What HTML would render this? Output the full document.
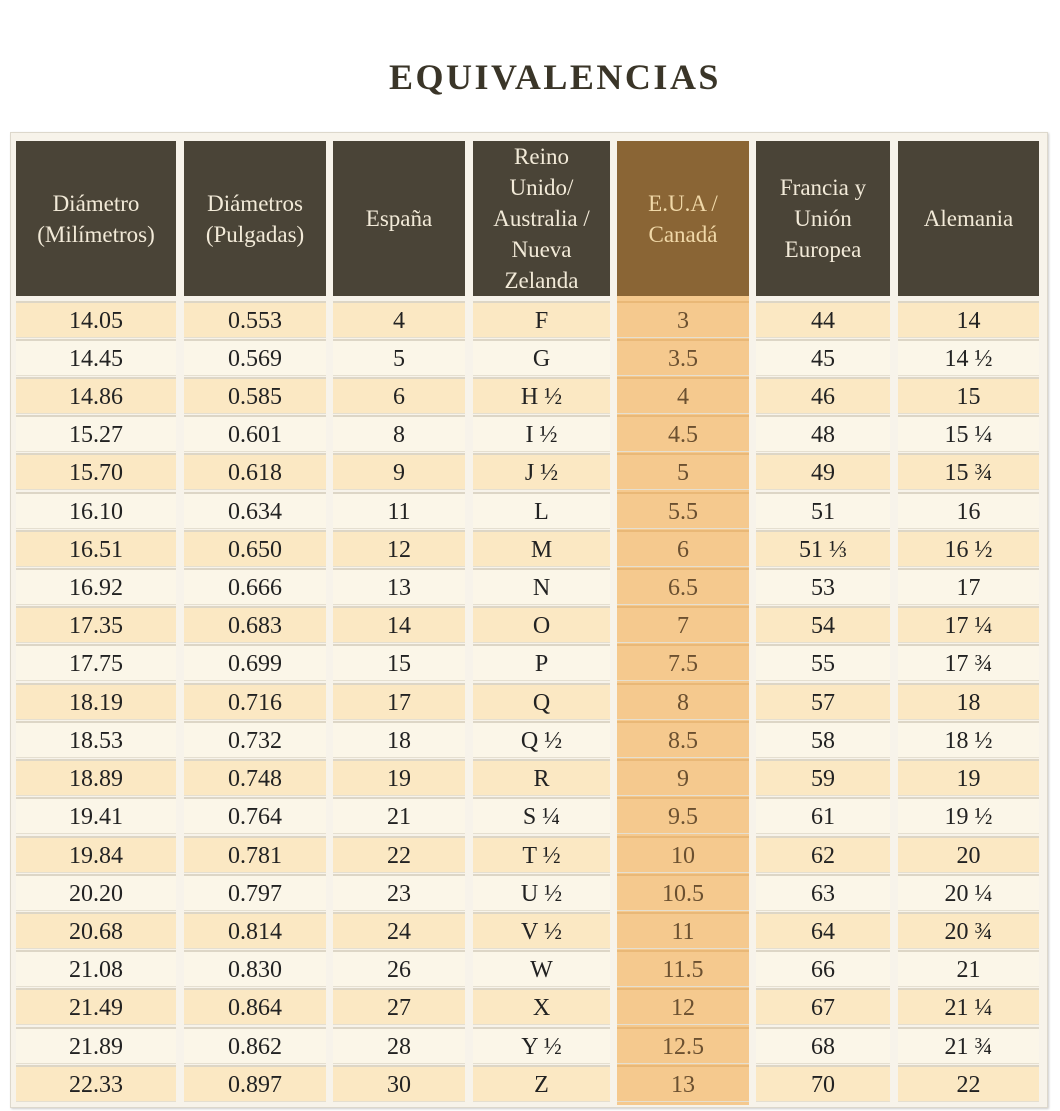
<!DOCTYPE html>
<html><head><meta charset="utf-8"><style>
body{margin:0;width:1060px;height:1111px;background:#fff;position:relative;overflow:hidden;font-family:"Liberation Serif",serif}
h1{position:absolute;top:56px;left:0;width:1110px;text-align:center;margin:0;font-size:36px;font-weight:bold;letter-spacing:2.5px;color:#3a3528}
.frame{position:absolute;left:10px;top:132px;width:1036px;height:974px;background:#f7f3ea;border:1px solid #ddd8cc;box-shadow:1px 1px 2px #ccc}
.r{position:absolute;left:0;height:36px}
.c{position:absolute;top:0;height:34px;line-height:36px;text-align:center;font-size:24px;color:#222;border-top:2px solid #ddd6c6;box-shadow:0 1px 0 #e5dfd0}
.o .c{background:#fbe8c3}
.e .c{background:#fbf6e8}
.c.u{background:#f5c98e!important;color:#6b5030;border-top-color:#e9b877}
.h .c{height:155px;top:0;background:#4a4437;color:#f2ead8;line-height:31px;font-size:23px;display:flex;align-items:center;justify-content:center;border-top:none;box-shadow:none}
.h .c.u{background:#8a6535!important;color:#f0d8a8}
.c1{left:16px;width:160px}.c2{left:184px;width:142px}.c3{left:333px;width:132px}.c4{left:473px;width:137px}.c5{left:617px;width:132px}.c6{left:756px;width:134px}.c7{left:898px;width:141px}
.ucol{position:absolute;left:617px;top:141px;width:132px;height:964px;background:#f5c98e}
</style></head><body>
<h1>EQUIVALENCIAS</h1>
<div class="frame"></div>
<div class="ucol"></div>
<div class="r h" style="top:141px"><div class="c c1">Diámetro<br>(Milímetros)</div><div class="c c2">Diámetros<br>(Pulgadas)</div><div class="c c3">España</div><div class="c c4">Reino<br>Unido/<br>Australia /<br>Nueva<br>Zelanda</div><div class="c c5 u">E.U.A /<br>Canadá</div><div class="c c6">Francia y<br>Unión<br>Europea</div><div class="c c7">Alemania</div></div>
<div class="r o" style="top:301px"><div class="c c1">14.05</div><div class="c c2">0.553</div><div class="c c3">4</div><div class="c c4">F</div><div class="c c5 u">3</div><div class="c c6">44</div><div class="c c7">14</div></div>
<div class="r e" style="top:339px"><div class="c c1">14.45</div><div class="c c2">0.569</div><div class="c c3">5</div><div class="c c4">G</div><div class="c c5 u">3.5</div><div class="c c6">45</div><div class="c c7">14 ½</div></div>
<div class="r o" style="top:377px"><div class="c c1">14.86</div><div class="c c2">0.585</div><div class="c c3">6</div><div class="c c4">H ½</div><div class="c c5 u">4</div><div class="c c6">46</div><div class="c c7">15</div></div>
<div class="r e" style="top:415px"><div class="c c1">15.27</div><div class="c c2">0.601</div><div class="c c3">8</div><div class="c c4">I ½</div><div class="c c5 u">4.5</div><div class="c c6">48</div><div class="c c7">15 ¼</div></div>
<div class="r o" style="top:453px"><div class="c c1">15.70</div><div class="c c2">0.618</div><div class="c c3">9</div><div class="c c4">J ½</div><div class="c c5 u">5</div><div class="c c6">49</div><div class="c c7">15 ¾</div></div>
<div class="r e" style="top:492px"><div class="c c1">16.10</div><div class="c c2">0.634</div><div class="c c3">11</div><div class="c c4">L</div><div class="c c5 u">5.5</div><div class="c c6">51</div><div class="c c7">16</div></div>
<div class="r o" style="top:530px"><div class="c c1">16.51</div><div class="c c2">0.650</div><div class="c c3">12</div><div class="c c4">M</div><div class="c c5 u">6</div><div class="c c6">51 ⅓</div><div class="c c7">16 ½</div></div>
<div class="r e" style="top:568px"><div class="c c1">16.92</div><div class="c c2">0.666</div><div class="c c3">13</div><div class="c c4">N</div><div class="c c5 u">6.5</div><div class="c c6">53</div><div class="c c7">17</div></div>
<div class="r o" style="top:606px"><div class="c c1">17.35</div><div class="c c2">0.683</div><div class="c c3">14</div><div class="c c4">O</div><div class="c c5 u">7</div><div class="c c6">54</div><div class="c c7">17 ¼</div></div>
<div class="r e" style="top:644px"><div class="c c1">17.75</div><div class="c c2">0.699</div><div class="c c3">15</div><div class="c c4">P</div><div class="c c5 u">7.5</div><div class="c c6">55</div><div class="c c7">17 ¾</div></div>
<div class="r o" style="top:683px"><div class="c c1">18.19</div><div class="c c2">0.716</div><div class="c c3">17</div><div class="c c4">Q</div><div class="c c5 u">8</div><div class="c c6">57</div><div class="c c7">18</div></div>
<div class="r e" style="top:721px"><div class="c c1">18.53</div><div class="c c2">0.732</div><div class="c c3">18</div><div class="c c4">Q ½</div><div class="c c5 u">8.5</div><div class="c c6">58</div><div class="c c7">18 ½</div></div>
<div class="r o" style="top:759px"><div class="c c1">18.89</div><div class="c c2">0.748</div><div class="c c3">19</div><div class="c c4">R</div><div class="c c5 u">9</div><div class="c c6">59</div><div class="c c7">19</div></div>
<div class="r e" style="top:797px"><div class="c c1">19.41</div><div class="c c2">0.764</div><div class="c c3">21</div><div class="c c4">S ¼</div><div class="c c5 u">9.5</div><div class="c c6">61</div><div class="c c7">19 ½</div></div>
<div class="r o" style="top:836px"><div class="c c1">19.84</div><div class="c c2">0.781</div><div class="c c3">22</div><div class="c c4">T ½</div><div class="c c5 u">10</div><div class="c c6">62</div><div class="c c7">20</div></div>
<div class="r e" style="top:874px"><div class="c c1">20.20</div><div class="c c2">0.797</div><div class="c c3">23</div><div class="c c4">U ½</div><div class="c c5 u">10.5</div><div class="c c6">63</div><div class="c c7">20 ¼</div></div>
<div class="r o" style="top:912px"><div class="c c1">20.68</div><div class="c c2">0.814</div><div class="c c3">24</div><div class="c c4">V ½</div><div class="c c5 u">11</div><div class="c c6">64</div><div class="c c7">20 ¾</div></div>
<div class="r e" style="top:950px"><div class="c c1">21.08</div><div class="c c2">0.830</div><div class="c c3">26</div><div class="c c4">W</div><div class="c c5 u">11.5</div><div class="c c6">66</div><div class="c c7">21</div></div>
<div class="r o" style="top:988px"><div class="c c1">21.49</div><div class="c c2">0.864</div><div class="c c3">27</div><div class="c c4">X</div><div class="c c5 u">12</div><div class="c c6">67</div><div class="c c7">21 ¼</div></div>
<div class="r e" style="top:1027px"><div class="c c1">21.89</div><div class="c c2">0.862</div><div class="c c3">28</div><div class="c c4">Y ½</div><div class="c c5 u">12.5</div><div class="c c6">68</div><div class="c c7">21 ¾</div></div>
<div class="r o" style="top:1065px"><div class="c c1">22.33</div><div class="c c2">0.897</div><div class="c c3">30</div><div class="c c4">Z</div><div class="c c5 u">13</div><div class="c c6">70</div><div class="c c7">22</div></div>
</body></html>
